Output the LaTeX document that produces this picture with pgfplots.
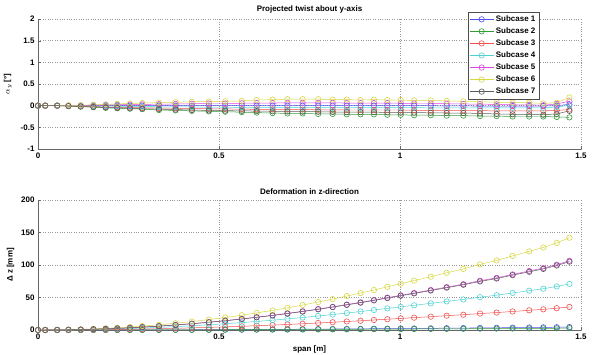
\documentclass[border=0pt]{standalone}
\usepackage{pgfplots}
\pgfplotsset{compat=1.18}
\usepackage{pgfplotstable}
\usepackage{fontspec}
\setmainfont{Liberation Sans}
\definecolor{c1}{RGB}{80,80,240}
\definecolor{c2}{RGB}{50,155,50}
\definecolor{c3}{RGB}{240,80,80}
\definecolor{c4}{RGB}{80,210,210}
\definecolor{c5}{RGB}{220,70,220}
\definecolor{c6}{RGB}{215,215,70}
\definecolor{c7}{RGB}{90,90,90}
\pgfplotstableread{
x s1 s2 s3 s4 s5 s6 s7
0 0 0 0 0 0 0 0
0.020 0 0 0 0 0 0 0
0.053 0 0 0 0 0 0 0
0.084 0 -0.01 -0.005 0 0 0.005 -0.01
0.118 0 -0.02 -0.01 -0.005 0.005 0.01 -0.02
0.153 0 -0.035 -0.02 -0.01 0.01 0.02 -0.03
0.187 0 -0.05 -0.03 -0.01 0.015 0.03 -0.04
0.219 0 -0.06 -0.035 -0.015 0.02 0.04 -0.05
0.254 0 -0.07 -0.04 -0.02 0.025 0.05 -0.06
0.288 0 -0.08 -0.05 -0.02 0.03 0.06 -0.07
0.334 0 -0.10 -0.055 -0.025 0.035 0.07 -0.08
0.380 0 -0.11 -0.06 -0.03 0.04 0.08 -0.09
0.425 0 -0.12 -0.065 -0.03 0.045 0.09 -0.10
0.472 0 -0.13 -0.07 -0.035 0.05 0.095 -0.11
0.517 0 -0.14 -0.075 -0.035 0.05 0.10 -0.115
0.563 0 -0.15 -0.08 -0.04 0.055 0.11 -0.12
0.604 0 -0.16 -0.085 -0.04 0.06 0.13 -0.125
0.648 0 -0.17 -0.085 -0.04 0.06 0.14 -0.13
0.689 0 -0.18 -0.09 -0.04 0.065 0.15 -0.135
0.731 0 -0.18 -0.09 -0.045 0.065 0.15 -0.14
0.774 0 -0.19 -0.095 -0.045 0.065 0.15 -0.14
0.814 0 -0.19 -0.095 -0.045 0.065 0.14 -0.145
0.853 0 -0.20 -0.10 -0.045 0.06 0.14 -0.15
0.891 0 -0.20 -0.10 -0.045 0.06 0.13 -0.15
0.928 0 -0.20 -0.10 -0.045 0.06 0.14 -0.15
0.965 0 -0.21 -0.10 -0.045 0.06 0.13 -0.155
1.002 0 -0.21 -0.10 -0.045 0.055 0.13 -0.16
1.039 0 -0.22 -0.105 -0.045 0.05 0.12 -0.16
1.085 0 -0.22 -0.11 -0.05 0.05 0.12 -0.165
1.129 -0.005 -0.23 -0.11 -0.05 0.045 0.11 -0.17
1.175 -0.005 -0.23 -0.11 -0.05 0.04 0.10 -0.17
1.221 -0.01 -0.24 -0.115 -0.05 0.035 0.09 -0.18
1.267 -0.01 -0.24 -0.12 -0.05 0.03 0.08 -0.19
1.311 -0.01 -0.25 -0.12 -0.05 0.02 0.07 -0.20
1.357 -0.01 -0.25 -0.12 -0.05 0.02 0.07 -0.20
1.396 -0.01 -0.25 -0.12 -0.05 0.01 0.05 -0.21
1.433 0.0 -0.26 -0.11 -0.03 0.04 0.07 -0.19
1.468 0.03 -0.27 -0.09 0.01 0.10 0.19 -0.12
}\twist
\pgfplotstableread{
x s1 s2 s3 s4 s5 s6 s7
0 0 0 0 0 0 0 0
0.020 0 0 0 0 0 0 0
0.053 0 0 0.05 0.1 0.15 0.2 0.15
0.084 0 0 0.13 0.25 0.4 0.5 0.4
0.118 0 0 0.25 0.5 0.75 1.0 0.74
0.153 0.05 0.03 0.43 0.85 1.3 1.7 1.3
0.187 0.08 0.05 0.63 1.25 1.9 2.5 1.85
0.219 0.1 0.07 0.88 1.75 2.6 3.5 2.6
0.254 0.15 0.1 1.15 2.3 3.5 4.6 3.4
0.288 0.2 0.12 1.5 3.0 4.5 6.0 4.4
0.334 0.25 0.16 2.0 4.0 6.0 8.0 5.9
0.380 0.33 0.2 2.6 5.2 7.8 10.4 7.7
0.425 0.4 0.26 3.3 6.5 9.8 13.0 9.6
0.472 0.5 0.32 4.0 8.0 12.0 16.0 11.8
0.517 0.6 0.38 4.8 9.6 14.4 19.2 14.2
0.563 0.7 0.45 5.7 11.4 17.1 22.8 16.9
0.604 0.85 0.53 6.6 13.2 19.7 26.3 19.5
0.648 1.0 0.6 7.6 15.1 22.7 30.2 22.3
0.689 1.1 0.68 8.5 17.1 25.6 34.1 25.2
0.731 1.2 0.77 9.6 19.2 28.8 38.4 28.4
0.774 1.4 0.86 10.8 21.5 32.3 43.0 31.8
0.814 1.5 0.95 11.9 23.8 35.6 47.5 35.2
0.853 1.7 1.04 13.1 26.1 39.2 52.2 38.6
0.891 1.8 1.14 14.2 28.4 42.6 56.8 42.0
0.928 2.0 1.23 15.4 30.8 46.1 61.5 45.5
0.965 2.1 1.33 16.6 33.2 49.8 66.4 49.1
1.002 2.3 1.42 17.8 35.6 53.4 71.2 52.7
1.039 2.4 1.52 19.0 38.0 57.0 76.0 56.2
1.085 2.6 1.64 20.5 41.0 61.5 82.0 60.7
1.129 2.8 1.76 22.0 44.0 66.0 88.0 65.1
1.175 3.0 1.88 23.5 47.0 70.5 94.0 69.6
1.221 3.2 2.02 25.3 50.5 75.8 101.0 74.7
1.267 3.4 2.14 26.8 53.5 80.3 107.0 79.2
1.311 3.6 2.28 28.5 57.0 85.5 114.0 84.4
1.357 3.9 2.42 30.3 60.5 90.8 121.0 89.5
1.396 4.1 2.54 31.8 63.5 95.3 127.0 94.0
1.433 4.3 2.68 33.5 67.0 100.5 134.0 99.2
1.468 4.5 2.84 35.5 71.0 106.5 142.0 105.1
}\deform
\pgfplotsset{
  mystyle/.style={
    scale only axis, width=543bp, height=130bp,
    xmin=0, xmax=1.5, xtick={0,0.5,1,1.5},
    axis lines*=left,
    axis line style={draw=black!60, line width=0.6pt},
    tick align=inside, major tick length=3bp,
    tick style={draw=black!60},
    grid=major,
    grid style={dotted, draw=black!40, line width=0.5pt},
    /pgf/number format/assume math mode=true,
    tick label style={font=\bfseries\fontsize{8}{9}\selectfont},
    label style={font=\bfseries\fontsize{8}{9}\selectfont},
    title style={font=\bfseries\fontsize{8}{9}\selectfont, yshift=-4bp},
    every axis plot/.append style={line width=0.5pt, mark=o, mark size=2.7bp, mark options={solid, line width=0.6pt}},
    clip=false,
  }
}
\begin{document}
\begin{tikzpicture}
\path[use as bounding box] (-38bp,-206bp) rectangle (555bp,149bp);
\begin{axis}[mystyle, at={(0,0)}, anchor=south west,
  ymin=-1, ymax=2, ytick={-1,-0.5,0,0.5,1,1.5,2},
  title={Projected twist about y-axis},
  ylabel={$\alpha_y$ [°]},
  ylabel style={xshift=0bp, yshift=2bp},
  legend style={at={(0.9227,1.054)}, anchor=north east, font=\bfseries\fontsize{8}{9}\selectfont,
    draw=black!70, fill=white, inner sep=1.5pt, row sep=0.8pt},
  legend cell align=left,
  legend image code/.code={\draw[mark repeat=2,mark phase=2] plot coordinates {(0bp,0bp) (12bp,0bp) (24bp,0bp)};},
]
\addplot[c1] table[x=x,y=s1] {\twist};
\addplot[c2] table[x=x,y=s2] {\twist};
\addplot[c3] table[x=x,y=s3] {\twist};
\addplot[c4] table[x=x,y=s4] {\twist};
\addplot[c5] table[x=x,y=s5] {\twist};
\addplot[c6] table[x=x,y=s6] {\twist};
\addplot[c7] table[x=x,y=s7] {\twist};
\legend{Subcase 1,Subcase 2,Subcase 3,Subcase 4,Subcase 5,Subcase 6,Subcase 7}
\end{axis}
\begin{axis}[mystyle, at={(0,-181bp)}, anchor=south west,
  ymin=0, ymax=200, ytick={0,50,100,150,200},
  title={Deformation in z-direction},
  ylabel={Δ z [mm]},
  xlabel={span [m]},
]
\addplot[c1] table[x=x,y=s1] {\deform};
\addplot[c2] table[x=x,y=s2] {\deform};
\addplot[c3] table[x=x,y=s3] {\deform};
\addplot[c4] table[x=x,y=s4] {\deform};
\addplot[c5] table[x=x,y=s5] {\deform};
\addplot[c6] table[x=x,y=s6] {\deform};
\addplot[c7] table[x=x,y=s7] {\deform};
\end{axis}
\end{tikzpicture}
\end{document}
